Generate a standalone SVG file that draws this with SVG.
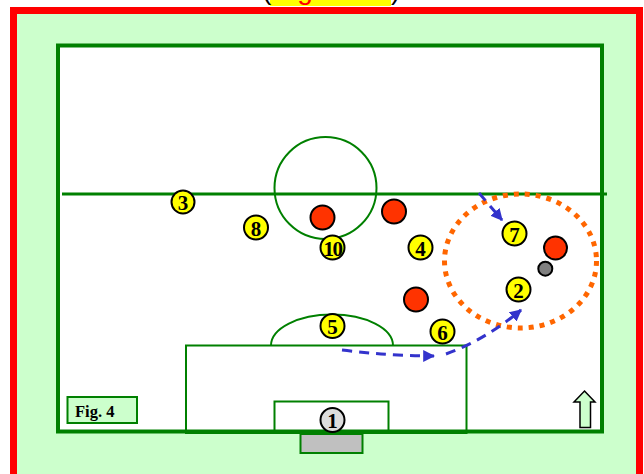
<svg xmlns="http://www.w3.org/2000/svg" width="644" height="474" viewBox="0 0 644 474">
<defs>
<style>
.pl{stroke:#000;stroke-width:2}
.y{fill:#FFFF00}
.r{fill:#FF3300}
.num{font-family:"Liberation Serif",serif;font-weight:bold;font-size:21px;text-anchor:middle;fill:#000}
.ln{fill:none;stroke:#008000;stroke-width:2}
.mv{fill:none;stroke:#3333CC;stroke-width:3;stroke-dasharray:10,7}
.tt{font-family:"Liberation Sans",sans-serif;font-size:28px}
</style>
<marker id="ah" viewBox="0 0 10 10" refX="9" refY="5" markerWidth="4" markerHeight="4" markerUnits="strokeWidth" orient="auto">
<path d="M0,0 L10,5 L0,10 z" fill="#3333CC"/>
</marker>
</defs>
<rect x="0" y="0" width="644" height="474" fill="#fff"/>
<g id="title">
<rect x="270" y="-4" width="121" height="10" fill="#FFFF00"/>
<text x="262" y="-1" class="tt" fill="#000">(</text>
<text x="274" y="-1" class="tt" fill="#FF0000">Figure 4</text>
<text x="391" y="-1" class="tt" fill="#000">)</text>
</g>
<rect x="13.5" y="10.5" width="626" height="470" fill="#CCFFCC" stroke="#FF0000" stroke-width="7"/>
<g id="pitch">
<rect x="58" y="45.5" width="544" height="386" fill="#fff" stroke="#008000" stroke-width="4"/>
<line x1="62" y1="194" x2="607" y2="194" stroke="#008000" stroke-width="3"/>
<circle cx="325.5" cy="188" r="51" class="ln"/>
<path d="M271,345.5 A61 31 0 0 1 393,345.5" class="ln"/>
<rect x="186" y="345.5" width="280.5" height="87.5" class="ln"/>
<rect x="274.5" y="401.5" width="114" height="31.5" class="ln"/>
<rect x="300.5" y="434" width="62" height="19" fill="#C0C0C0" stroke="#008000" stroke-width="2"/>
</g>
<g id="zone">
<ellipse cx="520.5" cy="261" rx="76" ry="67" fill="none" stroke="#FF6600" stroke-width="5" stroke-dasharray="5,6"/>
</g>
<g id="connectors">
<path d="M479,193 L502,220" class="mv" marker-end="url(#ah)"/>
<path d="M342,350 Q390,356 434,356" class="mv" marker-end="url(#ah)"/>
<path d="M446,354 Q485,340 521,310" class="mv" marker-end="url(#ah)"/>
</g>
<g id="p3"><circle cx="183" cy="202" r="11.5" class="pl y"/><text x="183" y="210" class="num">3</text></g>
<g id="p8"><circle cx="256" cy="227.5" r="12" class="pl y"/><text x="256" y="235.5" class="num">8</text></g>
<g id="p10"><circle cx="332.5" cy="247.5" r="12" class="pl y"/><text x="332.5" y="255.5" class="num" font-size="19" letter-spacing="-1.5">10</text></g>
<g id="p4"><circle cx="420.5" cy="247.5" r="12" class="pl y"/><text x="420.5" y="255.5" class="num">4</text></g>
<g id="p7"><circle cx="514.5" cy="233.5" r="12" class="pl y"/><text x="514.5" y="241.5" class="num">7</text></g>
<g id="p2"><circle cx="518.5" cy="289.5" r="12" class="pl y"/><text x="518.5" y="297.5" class="num">2</text></g>
<g id="p5"><circle cx="332.5" cy="326" r="12" class="pl y"/><text x="332.5" y="334" class="num">5</text></g>
<g id="p6"><circle cx="442.5" cy="331.5" r="12" class="pl y"/><text x="442.5" y="339.5" class="num">6</text></g>
<g id="p1"><circle cx="332.5" cy="420" r="12" class="pl" fill="#DDDDDD"/><text x="332.5" y="428" class="num">1</text></g>
<g id="o1"><circle cx="322.5" cy="217.5" r="12" class="pl r"/></g>
<g id="o2"><circle cx="394" cy="211.5" r="12" class="pl r"/></g>
<g id="o3"><circle cx="416" cy="299.5" r="12" class="pl r"/></g>
<g id="o4"><circle cx="555.5" cy="248" r="11.5" class="pl r"/></g>
<g id="ball"><circle cx="545.3" cy="268.7" r="7" class="pl" fill="#808080"/></g>
<g id="fig">
<rect x="67.5" y="397" width="69.5" height="26" fill="#CCFFCC" stroke="#008000" stroke-width="2"/>
<text x="75" y="417" font-family="Liberation Serif,serif" font-weight="bold" font-size="16.5" fill="#000">Fig. 4</text>
</g>
<g id="north">
<polygon points="584.5,391 595,402 590.5,402 590.5,427.5 580,427.5 580,402 574,402" fill="#CCFFCC" stroke="#000" stroke-width="1.5"/>
</g>
</svg>
